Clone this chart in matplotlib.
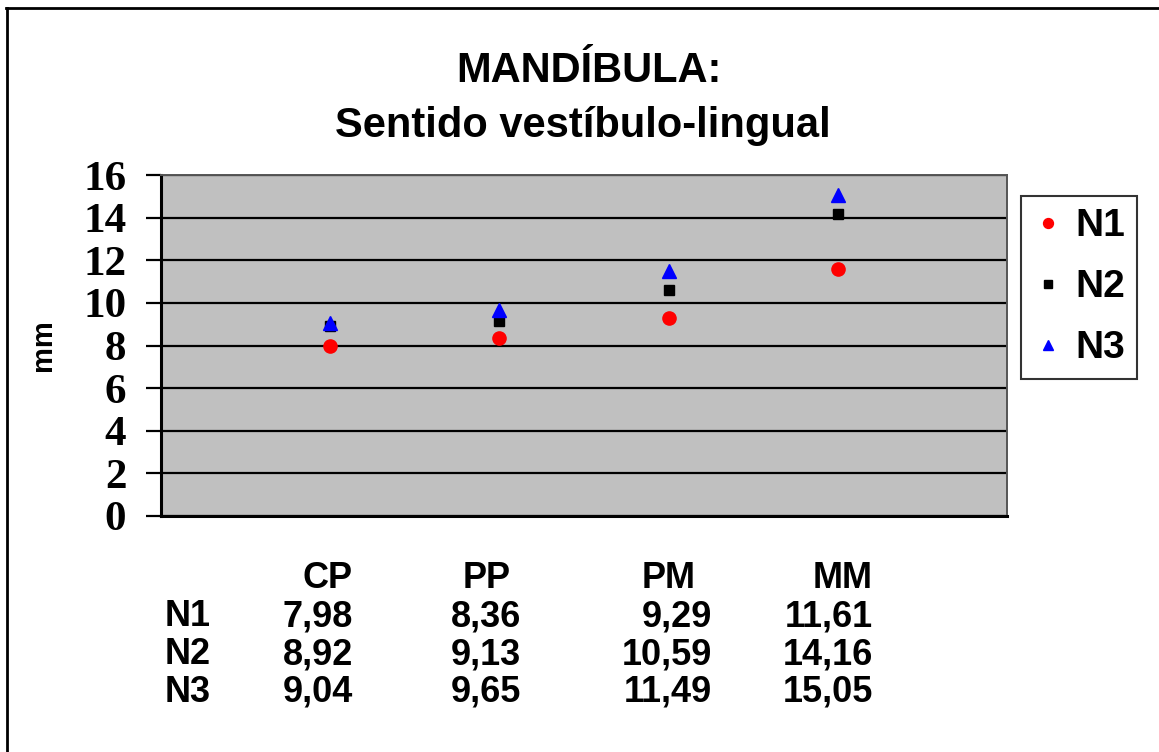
import matplotlib
matplotlib.use("Agg")
import matplotlib.pyplot as plt
from matplotlib.lines import Line2D

categories = ["CP", "PP", "PM", "MM"]
series_names = ["N1", "N2", "N3"]
n1 = [7.98, 8.36, 9.29, 11.61]
n2 = [8.92, 9.13, 10.59, 14.16]
n3 = [9.04, 9.65, 11.49, 15.05]
yticks = [0, 2, 4, 6, 8, 10, 12, 14, 16]

W, H = 1159, 752
fig = plt.figure(figsize=(W / 100, H / 100), dpi=100)
fig.patch.set_facecolor("white")

ax = fig.add_axes([161 / W, 1 - 516 / H, (1007 - 161) / W, (516 - 175) / H])
ax.set_facecolor("#C0C0C0")
ax.set_xlim(0, 5)
ax.set_ylim(0, 16)
ax.set_yticks(yticks)
ax.set_yticklabels([str(t) for t in yticks], fontfamily="Liberation Serif",
                   fontweight="bold", fontsize=31)
ax.set_xticks([])
ax.tick_params(axis="y", length=11, width=1.6, direction="out", pad=14)
for y in yticks:
    ax.axhline(y, color="black", linewidth=1.6, zorder=1)
for side in ["top", "right"]:
    ax.spines[side].set_color("#555555")
    ax.spines[side].set_linewidth(1.4)
for side in ["left", "bottom"]:
    ax.spines[side].set_linewidth(2.2)
    ax.spines[side].set_color("black")

xs = list(range(1, len(categories) + 1))
h1, = ax.plot(xs, n1, linestyle="none", marker="o", color="red", markersize=9.5,
              zorder=3, label=series_names[0])
h2, = ax.plot(xs, n2, linestyle="none", marker="s", color="black", markersize=7.5,
              zorder=3, label=series_names[1])
h3, = ax.plot(xs, n3, linestyle="none", marker="^", color="blue", markersize=9.5,
              zorder=4, label=series_names[2])

ax.set_ylabel("mm", fontfamily="Liberation Sans", fontweight="bold", fontsize=21)
ax.yaxis.set_label_coords(-0.123, 0.5)

fig.text(0.508, 1 - 71 / H, "MANDÍBULA:", ha="center", va="center",
         fontfamily="Liberation Sans", fontweight="bold", fontsize=30)
fig.text(0.503, 1 - 126 / H, "Sentido vestíbulo-lingual", ha="center", va="center",
         fontfamily="Liberation Sans", fontweight="bold", fontsize=30)

leg = fig.legend(handles=[h1, h2, h3], loc="upper left",
                 bbox_to_anchor=(1021 / W, 1 - 196 / H),
                 prop={"family": "Liberation Sans", "weight": "bold", "size": 28},
                 frameon=True, fancybox=False, shadow=False, borderpad=0.32,
                 labelspacing=0.64, handlelength=0.77, handletextpad=0.3,
                 markerscale=0.75, borderaxespad=0)
leg.get_frame().set_edgecolor("black")
leg.get_frame().set_linewidth(1.5)

# data table below the chart
tfont = dict(fontfamily="Liberation Sans", fontweight="bold", fontsize=26)
header_right = [353, 511, 696, 873]
value_right = [353, 521, 712, 873]
row_y = [617, 655, 692]
for cat, xr in zip(categories, header_right):
    fig.text(xr / W, 1 - 578 / H, cat, ha="right", va="center", **tfont)
for name, vals, yy in zip(series_names, [n1, n2, n3], row_y):
    fig.text(165 / W, 1 - yy / H, name, ha="left", va="center", **tfont)
    for v, xr in zip(vals, value_right):
        fig.text(xr / W, 1 - yy / H, f"{v:.2f}".replace(".", ","), ha="right",
                 va="center", **tfont)

# outer border (left and top)
fig.add_artist(Line2D([6.5 / W, 6.5 / W], [0, 1 - 8 / H], transform=fig.transFigure,
                      color="black", linewidth=2))
fig.add_artist(Line2D([6 / W, 1], [1 - 8 / H, 1 - 8 / H], transform=fig.transFigure,
                      color="black", linewidth=2))

fig.savefig("out.png", dpi=100)
